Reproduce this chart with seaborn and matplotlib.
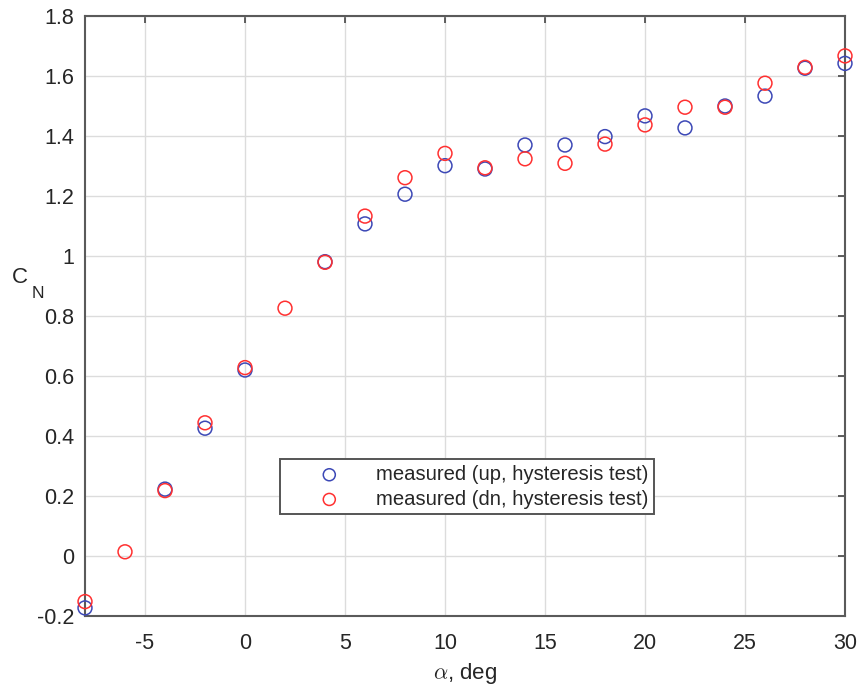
import numpy as np
import pandas as pd
import matplotlib
matplotlib.use("Agg")
import matplotlib.pyplot as plt
import seaborn as sns

# data
alpha_up = [-8, -4, -2, 0, 4, 6, 8, 10, 12, 14, 16, 18, 20, 22, 24, 26, 28, 30]
cn_up = [-0.173, 0.223, 0.426, 0.620, 0.981, 1.107, 1.206, 1.301, 1.290, 1.370,
         1.370, 1.398, 1.467, 1.427, 1.500, 1.533, 1.626, 1.642]
alpha_dn = [-8, -6, -4, -2, 0, 2, 4, 6, 8, 10, 12, 14, 16, 18, 20, 22, 24, 26, 28, 30]
cn_dn = [-0.152, 0.014, 0.218, 0.444, 0.628, 0.826, 0.979, 1.133, 1.261, 1.342,
         1.294, 1.324, 1.309, 1.373, 1.437, 1.496, 1.496, 1.576, 1.629, 1.667]
label_up = "measured (up, hysteresis test)"
label_dn = "measured (dn, hysteresis test)"
x_ticks = [-5, 0, 5, 10, 15, 20, 25, 30]
y_ticks = [-0.2, 0, 0.2, 0.4, 0.6, 0.8, 1, 1.2, 1.4, 1.6, 1.8]
y_ticklabels = ["-0.2", "0", "0.2", "0.4", "0.6", "0.8", "1", "1.2", "1.4", "1.6", "1.8"]

df = pd.concat([
    pd.DataFrame({"alpha": alpha_up, "CN": cn_up, "series": label_up}),
    pd.DataFrame({"alpha": alpha_dn, "CN": cn_dn, "series": label_dn}),
], ignore_index=True)

sns.set_style("white")
plt.rcParams["font.family"] = ["Liberation Sans", "DejaVu Sans"]
plt.rcParams["mathtext.fontset"] = "cm"

fig = plt.figure(figsize=(8.6, 6.86), dpi=100)
ax = fig.add_axes([85 / 860, 1 - 616 / 686, 760 / 860, 600 / 686])

colors = {label_up: "#3c48b6", label_dn: "#ff3030"}
for lab in [label_up, label_dn]:
    sub = df[df["series"] == lab]
    sns.scatterplot(data=sub, x="alpha", y="CN", ax=ax, marker="o", s=100,
                    facecolors="none", edgecolor=colors[lab], linewidth=1.1,
                    label=lab, zorder=3, clip_on=False)

ax.set_xlim(-8, 30)
ax.set_ylim(-0.2, 1.8)
ax.set_xticks(x_ticks)
ax.set_yticks(y_ticks)
ax.set_xticklabels([str(t) for t in x_ticks])
ax.set_yticklabels(y_ticklabels)
ax.grid(True, color="#dcdcdc", linewidth=1.0)
ax.set_axisbelow(True)
for sp in ax.spines.values():
    sp.set_color("#5a5a5a")
    sp.set_linewidth(1.5)
ax.tick_params(direction="in", length=5, width=1.2, color="#444444",
               labelsize=15.5, labelcolor="#262626", top=True, right=True)
ax.tick_params(axis="y", pad=8)
ax.tick_params(axis="x", pad=12)

ax.set_xlabel(r"$\alpha$, deg", fontsize=16, color="#262626", labelpad=5)
ax.set_ylabel("")
ax.text(-0.0855, 0.564, "C", transform=ax.transAxes, fontsize=16, color="#262626",
        ha="center", va="center")
ax.text(-0.0625, 0.538, "N", transform=ax.transAxes, fontsize=12.5, color="#262626",
        ha="center", va="center")

leg = ax.legend(loc="upper left", bbox_to_anchor=(0.2566, 0.261), borderaxespad=0,
                fontsize=14.6, frameon=True, fancybox=False, shadow=False,
                borderpad=0.28, handlelength=4.3, handletextpad=0.15,
                labelspacing=0.28, markerscale=1.0)
leg.get_frame().set_edgecolor("#555555")
leg.get_frame().set_linewidth(1.4)
leg.get_frame().set_facecolor("white")
leg.get_frame().set_alpha(1)
for h in leg.legend_handles:
    h.set_sizes([75])
for t in leg.get_texts():
    t.set_color("#262626")

fig.savefig("out.png", dpi=100)
